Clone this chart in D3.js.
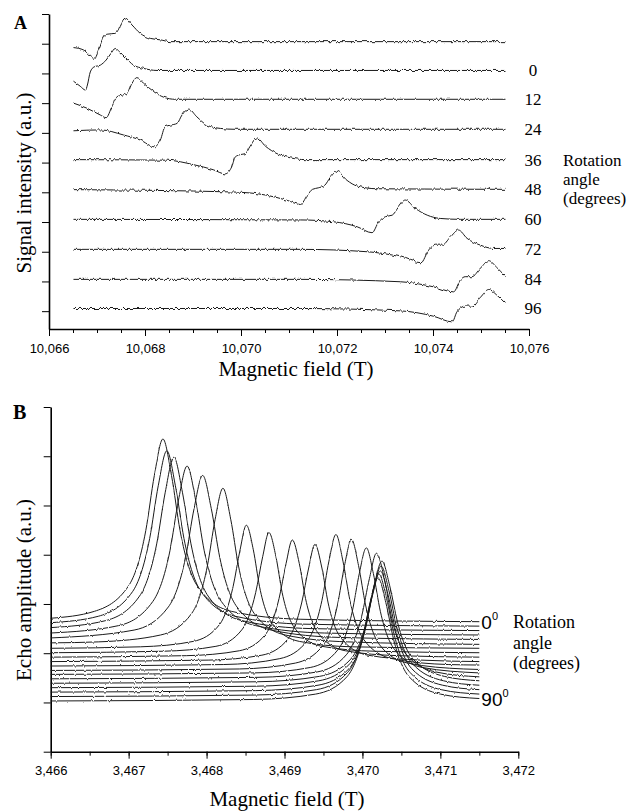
<!DOCTYPE html>
<html>
<head>
<meta charset="utf-8">
<script src="https://cdn.jsdelivr.net/npm/d3@7"></script>
<style>
  body { margin: 0; background: #fff; }
  .tick text { font-family: "Liberation Sans", Arial, sans-serif; font-size: 13px; fill: #000; }
  .serif { font-family: "Liberation Serif", "Times New Roman", serif; fill: #000; }
  .sans { font-family: "Liberation Sans", Arial, sans-serif; fill: #000; }
</style>
</head>
<body>
<svg id="chart" width="633" height="812"></svg>
<script>
// ---------- Panel A: ESR-like derivative traces near 10.07 T ----------
const anglesA = [null, 0, 12, 24, 36, 48, 60, 72, 84, 96];
const offsetsA = [9.07, 8.10, 7.13, 6.12, 5.10, 4.10, 3.09, 2.08, 1.07, 0.09];
// [field (T), signal relative to trace baseline]
const tracesA = [
  [[10.06651,-0.20],[10.06672,-0.28],[10.06694,-0.56],[10.06703,-0.28],[10.06714,0.17],[10.06721,0.25],[10.06738,0.28],[10.06759,0.79],[10.06773,0.56],[10.06790,0.28],[10.06811,0.11],[10.06832,0.06],[10.06853,0],[10.07551,0]],
  [[10.06651,-0.36],[10.06665,-0.53],[10.06676,-0.66],[10.06680,-0.49],[10.06686,-0.05],[10.06694,0.12],[10.06707,0.18],[10.06719,0.35],[10.06729,0.57],[10.06738,0.74],[10.06747,0.63],[10.06759,0.44],[10.06776,0.18],[10.06797,0.07],[10.06825,0],[10.07551,0]],
  [[10.06651,-0.13],[10.06679,-0.30],[10.06707,-0.53],[10.06719,-0.62],[10.06731,-0.25],[10.06742,0.09],[10.06752,0.14],[10.06763,0.20],[10.06773,0.54],[10.06783,0.73],[10.06797,0.54],[10.06818,0.26],[10.06839,0.07],[10.06863,0],[10.07551,0]],
  [[10.06651,-0.05],[10.06707,-0.02],[10.06755,-0.19],[10.06790,-0.36],[10.06820,-0.59],[10.06832,-0.36],[10.06842,0.09],[10.06853,0.14],[10.06867,0.20],[10.06877,0.48],[10.06891,0.68],[10.06908,0.42],[10.06929,0.14],[10.06957,0.03],[10.06988,0],[10.07551,0]],
  [[10.06651,0],[10.06846,-0.02],[10.06901,-0.17],[10.06942,-0.34],[10.06967,-0.48],[10.06981,-0.23],[10.06988,0.09],[10.06999,0.17],[10.07009,0.20],[10.07019,0.45],[10.07033,0.73],[10.07051,0.45],[10.07075,0.20],[10.07103,0.06],[10.07134,0],[10.07551,0]],
  [[10.06651,-0.01],[10.06984,-0.09],[10.07054,-0.20],[10.07096,-0.37],[10.07124,-0.51],[10.07138,-0.20],[10.07149,0],[10.07161,0.05],[10.07174,0.13],[10.07186,0.40],[10.07200,0.61],[10.07221,0.30],[10.07242,0.11],[10.07283,0.02],[10.07551,0]],
  [[10.06651,0],[10.07124,-0.02],[10.07192,-0.08],[10.07242,-0.25],[10.07273,-0.45],[10.07287,-0.08],[10.07301,0.09],[10.07315,0.14],[10.07328,0.41],[10.07342,0.65],[10.07363,0.37],[10.07388,0.14],[10.07415,0.03],[10.07457,0],[10.07551,0]],
  [[10.06651,0],[10.07124,0],[10.07263,-0.08],[10.07332,-0.25],[10.07375,-0.45],[10.07391,-0.02],[10.07405,0.14],[10.07419,0.14],[10.07436,0.41],[10.07453,0.65],[10.07471,0.37],[10.07499,0.14],[10.07526,0.03],[10.07551,0.03]],
  [[10.06651,0],[10.07124,0],[10.07332,-0.08],[10.07401,-0.25],[10.07443,-0.42],[10.07457,-0.02],[10.07467,0.09],[10.07481,0.09],[10.07499,0.38],[10.07516,0.63],[10.07533,0.40],[10.07551,0.09]],
  [[10.06651,0],[10.07124,0],[10.07332,-0.08],[10.07401,-0.26],[10.07440,-0.45],[10.07450,-0.11],[10.07467,0.08],[10.07481,0.08],[10.07499,0.38],[10.07516,0.64],[10.07533,0.45],[10.07551,0.17]]
];
const xTicksA = [10.066, 10.068, 10.070, 10.072, 10.074, 10.076];
const yTicksA = [0, 1, 2, 3, 4, 5, 6, 7, 8, 9, 10];

// ---------- Panel B: echo amplitude, 0..90 deg in 5 deg steps ----------
const anglesB = [0, 5, 10, 15, 20, 25, 30, 35, 40, 45, 50, 55, 60, 65, 70, 75, 80, 85, 90];
// [field (T), echo amplitude]
const tracesB = [
  [[3.466,2.71],[3.46656,2.85],[3.46700,3.37],[3.46722,4.49],[3.46733,5.61],[3.46744,6.35],[3.46755,5.61],[3.46766,4.49],[3.46788,3.37],[3.46832,2.85],[3.46920,2.69],[3.4715,2.64]],
  [[3.466,2.62],[3.46661,2.75],[3.46705,3.25],[3.46727,4.33],[3.46738,5.40],[3.46749,6.11],[3.46760,5.40],[3.46771,4.33],[3.46793,3.25],[3.46837,2.75],[3.46925,2.59],[3.4715,2.55]],
  [[3.466,2.52],[3.46670,2.66],[3.46714,3.16],[3.46736,4.22],[3.46747,5.27],[3.46758,5.98],[3.46769,5.27],[3.46780,4.22],[3.46802,3.16],[3.46846,2.66],[3.46934,2.50],[3.4715,2.46]],
  [[3.466,2.41],[3.46687,2.56],[3.46731,3.05],[3.46753,4.08],[3.46764,5.11],[3.46775,5.80],[3.46786,5.11],[3.46797,4.08],[3.46819,3.05],[3.46863,2.56],[3.46951,2.41],[3.4715,2.37]],
  [[3.466,2.31],[3.46707,2.47],[3.46751,2.94],[3.46773,3.94],[3.46784,4.94],[3.46795,5.61],[3.46806,4.94],[3.46817,3.94],[3.46839,2.94],[3.46883,2.47],[3.46971,2.32],[3.4715,2.28]],
  [[3.466,2.21],[3.46661,2.23],[3.46741,2.37],[3.46781,2.81],[3.46801,3.77],[3.46811,4.72],[3.46821,5.35],[3.46831,4.72],[3.46841,3.77],[3.46861,2.81],[3.46901,2.37],[3.46981,2.23],[3.4715,2.18]],
  [[3.466,2.10],[3.46715,2.13],[3.46783,2.24],[3.46817,2.59],[3.46834,3.35],[3.46843,4.10],[3.46851,4.60],[3.46860,4.10],[3.46868,3.35],[3.46885,2.59],[3.46919,2.24],[3.46987,2.13],[3.4715,2.10]],
  [[3.466,2.01],[3.46744,2.04],[3.46812,2.14],[3.46846,2.49],[3.46863,3.23],[3.46872,3.96],[3.46880,4.45],[3.46889,3.96],[3.46897,3.23],[3.46914,2.49],[3.46948,2.14],[3.47016,2.04],[3.4715,2.01]],
  [[3.466,1.92],[3.46774,1.95],[3.46842,2.05],[3.46876,2.39],[3.46893,3.11],[3.46902,3.82],[3.46910,4.30],[3.46919,3.82],[3.46927,3.11],[3.46944,2.39],[3.46978,2.05],[3.47046,1.95],[3.4715,1.92]],
  [[3.466,1.83],[3.46803,1.86],[3.46871,1.96],[3.46905,2.30],[3.46922,3.02],[3.46931,3.73],[3.46939,4.21],[3.46948,3.73],[3.46956,3.02],[3.46973,2.30],[3.47007,1.96],[3.47075,1.86],[3.4715,1.83]],
  [[3.466,1.74],[3.46822,1.77],[3.46894,1.89],[3.46930,2.27],[3.46948,3.07],[3.46957,3.87],[3.46966,4.41],[3.46975,3.87],[3.46984,3.07],[3.47002,2.27],[3.47038,1.89],[3.47110,1.77],[3.4715,1.76]],
  [[3.466,1.65],[3.46842,1.68],[3.46914,1.80],[3.46950,2.17],[3.46968,2.98],[3.46977,3.78],[3.46986,4.31],[3.46995,3.78],[3.47004,2.98],[3.47022,2.17],[3.47058,1.80],[3.47130,1.68],[3.4715,1.67]],
  [[3.466,1.57],[3.46861,1.60],[3.46933,1.71],[3.46969,2.08],[3.46987,2.85],[3.46996,3.62],[3.47005,4.14],[3.47014,3.62],[3.47023,2.85],[3.47041,2.08],[3.47077,1.71],[3.4715,1.60]],
  [[3.466,1.48],[3.46866,1.51],[3.46942,1.62],[3.46980,1.98],[3.46999,2.75],[3.47009,3.52],[3.47018,4.03],[3.47028,3.52],[3.47037,2.75],[3.47056,1.98],[3.47094,1.62],[3.4715,1.52]],
  [[3.466,1.39],[3.46865,1.42],[3.46945,1.53],[3.46985,1.88],[3.47005,2.63],[3.47015,3.37],[3.47025,3.87],[3.47035,3.37],[3.47045,2.63],[3.47065,1.88],[3.47105,1.53],[3.4715,1.44]],
  [[3.466,1.30],[3.46864,1.33],[3.46944,1.44],[3.46984,1.79],[3.47004,2.53],[3.47014,3.27],[3.47024,3.77],[3.47034,3.27],[3.47044,2.53],[3.47064,1.79],[3.47104,1.44],[3.4715,1.35]],
  [[3.466,1.21],[3.46863,1.24],[3.46943,1.35],[3.46983,1.69],[3.47003,2.44],[3.47013,3.18],[3.47023,3.67],[3.47033,3.18],[3.47043,2.44],[3.47063,1.69],[3.47103,1.35],[3.4715,1.26]],
  [[3.466,1.12],[3.46861,1.15],[3.46941,1.26],[3.46981,1.61],[3.47001,2.36],[3.47011,3.11],[3.47021,3.61],[3.47031,3.11],[3.47041,2.36],[3.47061,1.61],[3.47101,1.26],[3.4715,1.17]],
  [[3.466,1.03],[3.46860,1.06],[3.46940,1.17],[3.46980,1.52],[3.47000,2.28],[3.47010,3.03],[3.47020,3.53],[3.47030,3.03],[3.47040,2.28],[3.47060,1.52],[3.47100,1.17],[3.4715,1.08]]
];
const xTicksB = [3.466, 3.467, 3.468, 3.469, 3.470, 3.471, 3.472];
const yTicksB = [0, 1, 2, 3, 4, 5, 6, 7];

const fmt = d => d3.format(".3f")(d).replace(".", ",");

const svg = d3.select("#chart");

// slight instrument noise look on the traces (vertical jitter only)
const defs = svg.append("defs");
function noiseFilter(id, scale, seed) {
  const f = defs.append("filter").attr("id", id)
    .attr("filterUnits", "userSpaceOnUse")
    .attr("color-interpolation-filters", "sRGB")
    .attr("x", 0).attr("y", 0).attr("width", 633).attr("height", 812);
  f.append("feTurbulence").attr("type", "fractalNoise")
    .attr("baseFrequency", "0.45 0.06").attr("numOctaves", 2).attr("seed", seed).attr("result", "t");
  f.append("feColorMatrix").attr("in", "t").attr("type", "matrix")
    .attr("values", "0 0 0 0 0.5  0 1 0 0 0  0 0 0 0 0  0 0 0 0 1").attr("result", "ty");
  f.append("feDisplacementMap").attr("in", "SourceGraphic").attr("in2", "ty")
    .attr("scale", scale).attr("xChannelSelector", "R").attr("yChannelSelector", "G");
}
noiseFilter("noiseA", 4, 3);
noiseFilter("noiseB", 2.5, 7);

function drawAxes(g, x, y, xTicks, minorStep, yTicks, bottom) {
  const x0 = x.range()[0];
  const minor = d3.range(x.domain()[0], x.domain()[1] + minorStep / 2, minorStep);
  g.append("g")
    .attr("transform", `translate(0,${bottom})`)
    .call(d3.axisBottom(x).tickValues(minor).tickSize(4).tickSizeOuter(0).tickFormat(""))
    .call(a => a.select(".domain").remove());
  g.append("g")
    .attr("transform", `translate(0,${bottom})`)
    .call(d3.axisBottom(x).tickValues(xTicks).tickSize(7).tickSizeOuter(0).tickFormat(fmt))
    .call(a => a.select(".domain").attr("stroke-width", 1.6))
    .call(a => a.selectAll(".tick text").attr("dy", "1.05em"));
  g.append("g")
    .attr("transform", `translate(${x0},0)`)
    .call(d3.axisLeft(y).tickValues(yTicks).tickSize(7).tickSizeOuter(0).tickFormat(""))
    .call(a => a.select(".domain").attr("stroke-width", 1.6));
}

// ---------- Panel A ----------
const xA = d3.scaleLinear().domain([10.066, 10.076]).range([49, 529]);
const yA = d3.scaleLinear().domain([-0.6, 10]).range([329, 14]);
const gA = svg.append("g");
drawAxes(gA, xA, yA, xTicksA, 0.0005, yTicksA, 329);

const lineA = (off) => d3.line()
  .x(d => xA(d[0]))
  .y(d => yA(d[1] + off))
  .curve(d3.curveMonotoneX);

gA.append("g").attr("filter", "url(#noiseA)")
  .selectAll("path")
  .data(tracesA)
  .join("path")
  .attr("d", (d, i) => lineA(offsetsA[i])(d))
  .attr("fill", "none")
  .attr("stroke", "#1a1a1a")
  .attr("stroke-width", 1);

gA.selectAll(".angA")
  .data(anglesA.map((a, i) => ({ a, off: offsetsA[i] })).filter(d => d.a !== null))
  .join("text")
  .attr("class", "serif angA")
  .attr("x", 533)
  .attr("y", d => yA(d.off) + 6)
  .attr("text-anchor", "middle")
  .attr("font-size", 17)
  .text(d => d.a);

const rotA = gA.append("text").attr("class", "serif").attr("font-size", 17);
["Rotation", "angle", "(degrees)"].forEach((t, i) =>
  rotA.append("tspan").attr("x", 563).attr("y", 166 + i * 19).text(t));

gA.append("text").attr("class", "serif")
  .attr("x", 296).attr("y", 376).attr("text-anchor", "middle")
  .attr("font-size", 21).text("Magnetic field (T)");
gA.append("text").attr("class", "serif")
  .attr("transform", "translate(31,183) rotate(-90)").attr("text-anchor", "middle")
  .attr("font-size", 21).text("Signal intensity (a.u.)");
gA.append("text").attr("class", "serif")
  .attr("x", 14).attr("y", 29).attr("font-size", 18).attr("font-weight", "bold").text("A");

// ---------- Panel B ----------
const xB = d3.scaleLinear().domain([3.466, 3.472]).range([50.7, 518.3]);
const yB = d3.scaleLinear().domain([0, 7]).range([751.7, 407]);
const gB = svg.append("g");
drawAxes(gB, xB, yB, xTicksB, 0.0005, yTicksB, 751.7);

const lineB = d3.line()
  .x(d => xB(d[0]))
  .y(d => yB(d[1]))
  .curve(d3.curveMonotoneX);

gB.append("g").attr("filter", "url(#noiseB)")
  .selectAll("path")
  .data(tracesB)
  .join("path")
  .attr("d", lineB)
  .attr("fill", "none")
  .attr("stroke", "#1a1a1a")
  .attr("stroke-width", 1);

// end labels 0° and 90°
[0, anglesB.length - 1].forEach(i => {
  const tr = tracesB[i];
  const last = tr[tr.length - 1];
  const t = gB.append("text").attr("class", "sans")
    .attr("x", xB(last[0]) + 2).attr("y", yB(last[1]) + 7).attr("font-size", 19)
    .text(anglesB[i]);
  t.append("tspan").attr("dy", -9).attr("font-size", 11).text("0");
});

const rotB = gB.append("text").attr("class", "serif").attr("font-size", 18);
["Rotation", "angle", "(degrees)"].forEach((t, i) =>
  rotB.append("tspan").attr("x", 513).attr("y", 628 + i * 20.5).text(t));

gB.append("text").attr("class", "serif")
  .attr("x", 287).attr("y", 806).attr("text-anchor", "middle")
  .attr("font-size", 21).text("Magnetic field (T)");
gB.append("text").attr("class", "serif")
  .attr("transform", "translate(31,590) rotate(-90)").attr("text-anchor", "middle")
  .attr("font-size", 21).text("Echo amplitude (a.u.)");
gB.append("text").attr("class", "serif")
  .attr("x", 13).attr("y", 419).attr("font-size", 20).attr("font-weight", "bold").text("B");
</script>
</body>
</html>
